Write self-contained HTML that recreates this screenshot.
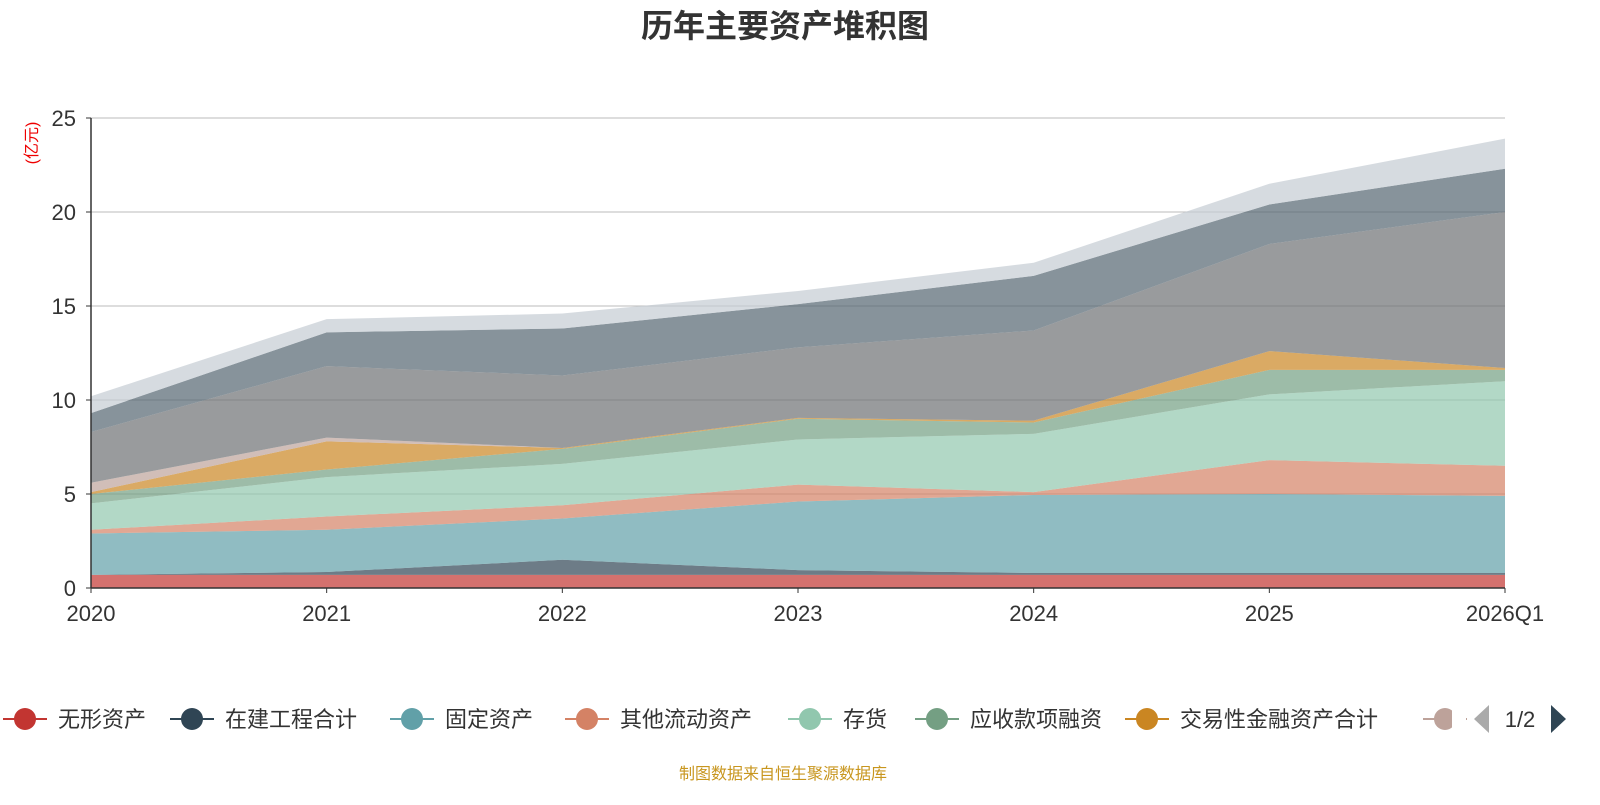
<!DOCTYPE html>
<html><head><meta charset="utf-8"><style>
body{margin:0;width:1600px;height:800px;background:#fff;overflow:hidden;font-family:"Liberation Sans","Noto Sans CJK SC",sans-serif;}
svg text{font-family:"Liberation Sans","Noto Sans CJK SC",sans-serif;}
</style></head><body>
<svg id="chart" width="1600" height="800" xmlns="http://www.w3.org/2000/svg">
<text x="785" y="37" text-anchor="middle" font-size="32" font-weight="bold" fill="#333">历年主要资产堆积图</text>
<text transform="translate(37,143) rotate(-90)" text-anchor="middle" font-size="16" fill="#e00">(亿元)</text>
<g id="grid"></g>
<g id="areas"></g>
<g id="axes"></g>
<g id="legend"></g>
<text x="783" y="779" text-anchor="middle" font-size="16" fill="#c8961e">制图数据来自恒生聚源数据库</text>
</svg>
<script>
const categories=["2020","2021","2022","2023","2024","2025","2026Q1"];
const seriesNames=["无形资产","在建工程合计","固定资产","其他流动资产","存货","应收款项融资","交易性金融资产合计","其他","非流动资产其他","货币资金","其他资产"];
const s1=[0.7,0.7,0.7,0.7,0.7,0.7,0.7];
const s2=[0,0.15,0.8,0.25,0.1,0.1,0.1];
const s3=[2.2,2.25,2.2,3.65,4.15,4.2,4.1];
const s4=[0.2,0.7,0.7,0.9,0.15,1.8,1.6];
const s5=[1.4,2.1,2.2,2.4,3.1,3.5,4.5];
const s6=[0.5,0.4,0.8,1.1,0.6,1.3,0.6];
const s7=[0.1,1.5,0.05,0.05,0.1,1.0,0.1];
const s8=[0.5,0.2,0,0,0,0,0];
const s9=[2.7,3.8,3.85,3.75,4.8,5.7,8.3];
const s10=[1.0,1.8,2.5,2.3,2.9,2.1,2.3];
const s11=[0.9,0.7,0.8,0.7,0.7,1.1,1.6];
const allSeries=[s1,s2,s3,s4,s5,s6,s7,s8,s9,s10,s11];
const yTicks=[0,5,10,15,20,25];
const colors=["#c23531","#2f4554","#61a0a8","#d48265","#91c7ae","#749f83","#ca8622","#bda29a","#6e7074","#546570","#c4ccd3"];
const NS="http://www.w3.org/2000/svg";
const x0=91,x1=1505,y0=588,yTop=118,yMax=25;
const xs=i=>x0+i*(x1-x0)/(categories.length-1);
const ys=v=>y0-v*(y0-yTop)/yMax;
function mk(t,a,p){const e=document.createElementNS(NS,t);for(const k in a)e.setAttribute(k,a[k]);p.appendChild(e);return e;}
const grid=document.getElementById('grid'),axes=document.getElementById('axes'),areas=document.getElementById('areas');
yTicks.forEach(v=>{
 if(v>0){const l=mk('line',{x1:x0,x2:x1,y1:ys(v),y2:ys(v),stroke:'#bbb','stroke-width':1},grid);
 
 }
 const t=mk('text',{x:76,y:ys(v)+8,'text-anchor':'end','font-size':22,fill:'#333'},axes);t.textContent=v;
 
 
 mk('line',{x1:x0-5,x2:x0,y1:ys(v),y2:ys(v),stroke:'#333'},axes);
});
let cum=categories.map(()=>0);
allSeries.forEach((s,k)=>{
 const lower=cum.slice();const upper=cum.map((c,i)=>c+s[i]);
 let d='M'+upper.map((v,i)=>xs(i)+','+ys(v)).join(' L');
 for(let i=categories.length-1;i>=0;i--)d+=' L'+xs(i)+','+ys(lower[i]);
 const p=mk('path',{d:d+'Z',fill:colors[k],'fill-opacity':0.7,stroke:'none'},areas);
 
 
 cum=upper;
});
mk('line',{x1:x0,x2:x0,y1:yTop,y2:y0,stroke:'#333','stroke-width':1.5},axes);
mk('line',{x1:x0,x2:x1,y1:y0,y2:y0,stroke:'#333','stroke-width':1.5},axes);
categories.forEach((c,i)=>{
 mk('line',{x1:xs(i),x2:xs(i),y1:y0,y2:y0+5,stroke:'#333'},axes);
 const t=mk('text',{x:xs(i),y:621,'text-anchor':'middle','font-size':22,fill:'#333'},axes);t.textContent=c;
 
 
});
const lg=document.getElementById('legend');
const lx=[25,192,412,587,810,937,1147,1445];
lx.forEach((x,k)=>{
 const g=mk('g',{},lg);
 
 
 mk('line',{x1:x-22,x2:x+22,y1:719,y2:719,stroke:colors[k],'stroke-width':2},g);
 mk('circle',{cx:x,cy:719,r:11,fill:colors[k]},g);
 if(k<7){const t=mk('text',{x:x+33,y:727,'font-size':22,fill:'#333'},g);t.textContent=seriesNames[k];}
});
mk('rect',{x:1452,y:700,width:14,height:40,fill:'#fff'},lg);
mk('path',{d:'M1489,705 L1489,733 L1474,719 Z',fill:'#aaa'},lg);
const pg=mk('text',{x:1520,y:727,'text-anchor':'middle','font-size':22,fill:'#333'},lg);pg.textContent='1/2';
mk('path',{d:'M1551,705 L1551,733 L1566,719 Z',fill:'#2f4554'},lg);
</script>
</body></html>
